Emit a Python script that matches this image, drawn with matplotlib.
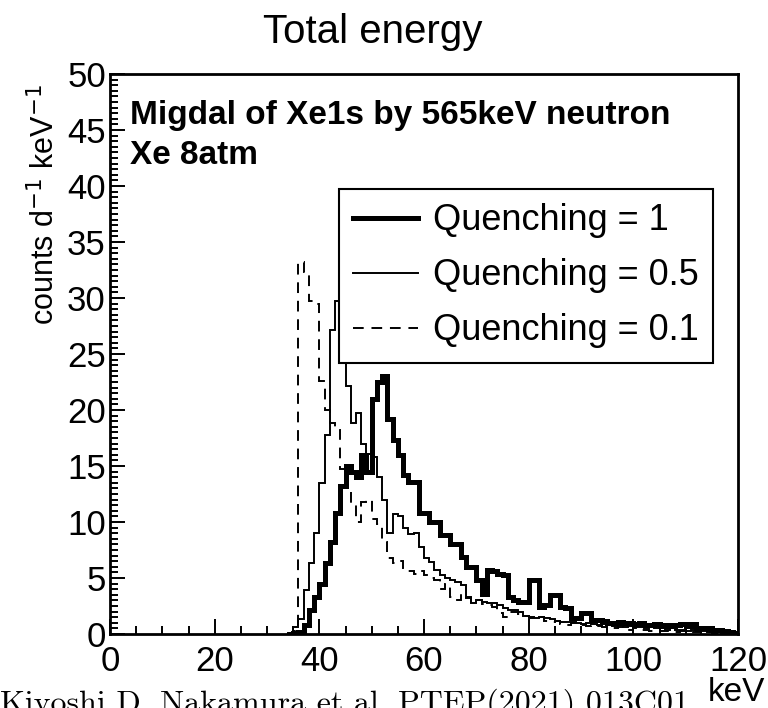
import numpy as np
import matplotlib
matplotlib.use("Agg")
import matplotlib.pyplot as plt
from matplotlib.ticker import MultipleLocator
from matplotlib.lines import Line2D

plt.rcParams['font.family'] = ['Liberation Sans', 'DejaVu Sans']

# 1 keV bins, first non-empty region starts at 34 keV (everything below is 0)
first_bin = 34

# counts / day / keV
q1 = [0.0, 0.05, 0.2, 0.8, 2.1, 3.3, 4.5, 6.3, 8.2, 10.8,          # 34-43
      13.2, 15.0, 14.5, 14.0, 16.0, 14.5, 21.0, 22.5, 23.0, 19.2,   # 44-53
      17.3, 16.0, 14.2, 13.6, 13.6, 10.8, 10.8, 10.0, 10.0, 8.8,    # 54-63
      8.8, 8.0, 8.0, 6.9, 6.0, 6.0, 4.8, 3.6, 5.7, 5.6,             # 64-73
      5.4, 5.3, 3.3, 3.0, 2.9, 2.9, 4.8, 4.8, 2.4, 2.6,             # 74-83
      3.5, 3.5, 2.4, 2.3, 1.4, 1.4, 1.9, 1.9, 1.25, 1.25,           # 84-93
      1.2, 1.0, 1.0, 1.1, 1.0, 1.0, 0.9, 1.0, 0.8, 0.8,             # 94-103
      0.9, 0.7, 0.8, 0.7, 0.8, 0.9, 0.7, 0.9, 0.5, 0.5,             # 104-113
      0.5, 0.4, 0.4, 0.3, 0.2, 0.1]                                 # 114-119

q05 = [0.1, 0.6, 1.3, 3.9, 6.3, 9.0, 13.5, 17.8, 27.1, 29.7,
       24.4, 22.1, 18.8, 19.7, 17.0, 16.1, 15.8, 14.0, 12.0, 9.0,
       10.7, 10.5, 9.5, 8.9, 9.0, 7.8, 6.8, 6.4, 5.7, 5.3,
       5.0, 4.8, 4.6, 4.4, 3.3, 2.8, 3.0, 2.9, 2.8, 2.8,
       2.6, 2.3, 2.1, 2.1, 2.0, 1.6, 1.4, 1.4, 1.5, 1.4,
       1.3, 1.2, 1.1, 1.1, 1.1, 1.0, 0.9, 1.0, 0.9, 0.8,
       0.9, 0.8, 0.7, 0.8, 0.6, 0.7, 0.6, 0.6, 0.5, 0.6,
       0.5, 0.5, 0.4, 0.5, 0.4, 0.4, 0.3, 0.4, 0.3, 0.3,
       0.2, 0.2, 0.2, 0.15, 0.1, 0.1]

q01 = [0.0, 0.3, 33.2, 32.3, 29.7, 29.5, 22.6, 20.0, 18.8, 18.2,
       14.7, 13.0, 11.5, 10.0, 11.8, 12.0, 10.3, 9.8, 8.2, 6.8,
       6.3, 6.5, 5.9, 5.6, 5.4, 5.6, 5.3, 5.0, 4.8, 4.0,
       4.5, 3.3, 3.0, 3.6, 3.2, 2.9, 3.0, 2.7, 2.6, 2.4,
       1.9, 1.5, 2.0, 2.0, 1.8, 1.6, 1.5, 1.4, 1.5, 1.2,
       1.1, 1.2, 0.9, 0.8, 1.0, 0.9, 0.8, 0.7, 0.8, 0.7,
       0.6, 0.6, 0.5, 0.6, 0.5, 0.4, 0.5, 0.4, 0.4, 0.3,
       0.4, 0.3, 0.3, 0.3, 0.2, 0.3, 0.2, 0.2, 0.2, 0.1,
       0.15, 0.1, 0.1, 0.1, 0.05, 0.05]

labels = ["Quenching = 1", "Quenching = 0.5", "Quenching = 0.1"]
dash = (0, (5.5, 4))

fig = plt.figure(figsize=(7.68, 7.08), dpi=100)
ax = fig.add_axes([110/768, 1 - 634/708, 628/768, 560/708])

edges = np.arange(first_bin, first_bin + len(q1) + 1)
ax.stairs(q01, edges, color='black', lw=1.4, ls=dash)
ax.stairs(q05, edges, color='black', lw=1.4)
ax.stairs(q1, edges, color='black', lw=3.6)

ax.set_xlim(0, 120)
ax.set_ylim(0, 50)
ax.xaxis.set_major_locator(MultipleLocator(20))
ax.xaxis.set_minor_locator(MultipleLocator(5))
ax.yaxis.set_major_locator(MultipleLocator(5))
ax.yaxis.set_minor_locator(MultipleLocator(0.5))
ax.tick_params(which='both', direction='in', top=False, right=False, width=1.4)
ax.tick_params(which='major', length=11, labelsize=25)
ax.tick_params(which='minor', length=5.5)
ax.tick_params(axis='x', which='major', pad=8)
ax.tick_params(axis='y', which='major', pad=3)
for s in ax.spines.values():
    s.set_linewidth(2)

fig.text(130/768, 1 - 100/708, "Migdal of Xe1s by 565keV neutron",
         fontsize=24, fontweight='bold', va='top')
fig.text(130/768, 1 - 140/708, "Xe 8atm", fontsize=24, fontweight='bold', va='top')

handles = [Line2D([], [], color='black', lw=3.6),
           Line2D([], [], color='black', lw=1.4),
           Line2D([], [], color='black', lw=1.4, ls=dash)]
leg = ax.legend(handles, labels, loc='upper left',
                bbox_to_anchor=(339/768, 1 - 189/708), bbox_transform=fig.transFigure,
                fontsize=26, fancybox=False, edgecolor='black', framealpha=1,
                handlelength=1.78, handletextpad=0.42, borderpad=0.4,
                labelspacing=0.55, borderaxespad=0)
leg.get_frame().set_linewidth(1.5)

fig.text(373/768, 1 - 13/708, "Total energy", fontsize=29, ha='center', va='top')
fig.text(45/768, 1 - 84/708, "counts d$^{-1}$ keV$^{-1}$", fontsize=22,
         rotation=90, ha='center', va='top')

# caption of the source page, cut off at the bottom edge
fig.text(0.0, 1 - 688/708, "Kiyoshi D. Nakamura et al. PTEP(2021) 013C01",
         family='cmr10', fontsize=23, va='top')
fig.text(765/768, 1 - 701/708, "keV", fontsize=24, ha='right', va='baseline',
         bbox=dict(facecolor='white', edgecolor='none', pad=0))

fig.savefig("out.png", dpi=100)
